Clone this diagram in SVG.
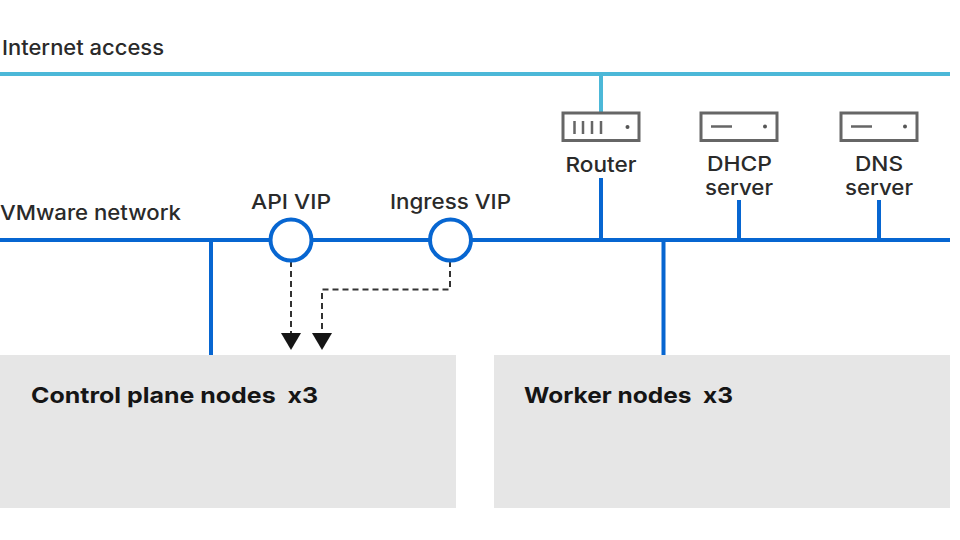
<svg xmlns="http://www.w3.org/2000/svg" width="960" height="540" viewBox="0 0 960 540">
<defs>
<marker id="arrow" markerUnits="userSpaceOnUse" markerWidth="18" markerHeight="20" refX="0" refY="10" orient="auto"><path d="M0 0L17 10L0 20Z" fill="#151515"/></marker>
</defs>
<style>
text{font-family:"Inter","Open Sans","Liberation Sans",sans-serif;fill:#2a2a2a;font-size:20.500px;font-weight:500;white-space:pre}
.c{text-anchor:middle}
.b{font-weight:700;font-size:22px;fill:#151515}
.blue{stroke:#0766d1;stroke-width:4;fill:none}
.cyan{stroke:#4cb8d8;stroke-width:4;fill:none}
.dash{stroke:#333;stroke-width:2;stroke-dasharray:6 4;fill:none}
.dev{fill:#fff;stroke:#666;stroke-width:3}
.ic{stroke:#666;stroke-width:2.500;fill:none}
.dot{fill:#555}
.box{fill:#e6e6e6}
</style>
<rect width="960" height="540" fill="#fff"/>
<g id="connectors">
<path class="cyan" d="M0 74H950M601 74V112"/>
<path class="blue" d="M0 240H950M211 240V355M601 178V240M663.500 240V355M739 200V240M879 200V240"/>
<path class="dash" d="M291 261V333" marker-end="url(#arrow)"/>
<path class="dash" d="M450 261V289.500H322V333" marker-end="url(#arrow)"/>
</g>
<g id="internet"><text x="2" y="55" textLength="162" lengthAdjust="spacingAndGlyphs">Internet access</text></g>
<g id="vmware"><text x="0" y="220" textLength="181" lengthAdjust="spacingAndGlyphs">VMware network</text></g>
<g id="api-vip"><circle cx="291" cy="240" r="20.500" fill="#fff" stroke="#0766d1" stroke-width="4"/><text class="c" x="291" y="209" textLength="80" lengthAdjust="spacingAndGlyphs">API VIP</text></g>
<g id="ingress-vip"><circle cx="450.500" cy="240" r="20.500" fill="#fff" stroke="#0766d1" stroke-width="4"/><text class="c" x="450.500" y="209" textLength="121" lengthAdjust="spacingAndGlyphs">Ingress VIP</text></g>
<g id="router"><rect class="dev" x="563" y="113" width="76" height="27.500"/><path class="ic" d="M574.500 121V134M583 121V134M592 121V134M601 121V134"/><circle class="dot" cx="627.500" cy="127" r="2"/><text class="c" x="601" y="172" textLength="71" lengthAdjust="spacingAndGlyphs">Router</text></g>
<g id="dhcp"><rect class="dev" x="701" y="113" width="76" height="27.500"/><path class="ic" d="M711 126.500H732"/><circle class="dot" cx="765" cy="126.500" r="2"/><text class="c" x="739.500" y="171" textLength="65" lengthAdjust="spacingAndGlyphs">DHCP</text><text class="c" x="739" y="195" textLength="68" lengthAdjust="spacingAndGlyphs">server</text></g>
<g id="dns"><rect class="dev" x="841" y="113" width="76" height="27.500"/><path class="ic" d="M851 126.500H872"/><circle class="dot" cx="905" cy="126.500" r="2"/><text class="c" x="879" y="171" textLength="48" lengthAdjust="spacingAndGlyphs">DNS</text><text class="c" x="879" y="195" textLength="68" lengthAdjust="spacingAndGlyphs">server</text></g>
<g id="control-plane"><rect class="box" x="0" y="355" width="456" height="153"/><text class="b" x="31" y="403" textLength="287" lengthAdjust="spacingAndGlyphs">Control plane nodes  x3</text></g>
<g id="workers"><rect class="box" x="494" y="355" width="456" height="153"/><text class="b" x="524" y="403" textLength="209" lengthAdjust="spacingAndGlyphs">Worker nodes  x3</text></g>
</svg>
